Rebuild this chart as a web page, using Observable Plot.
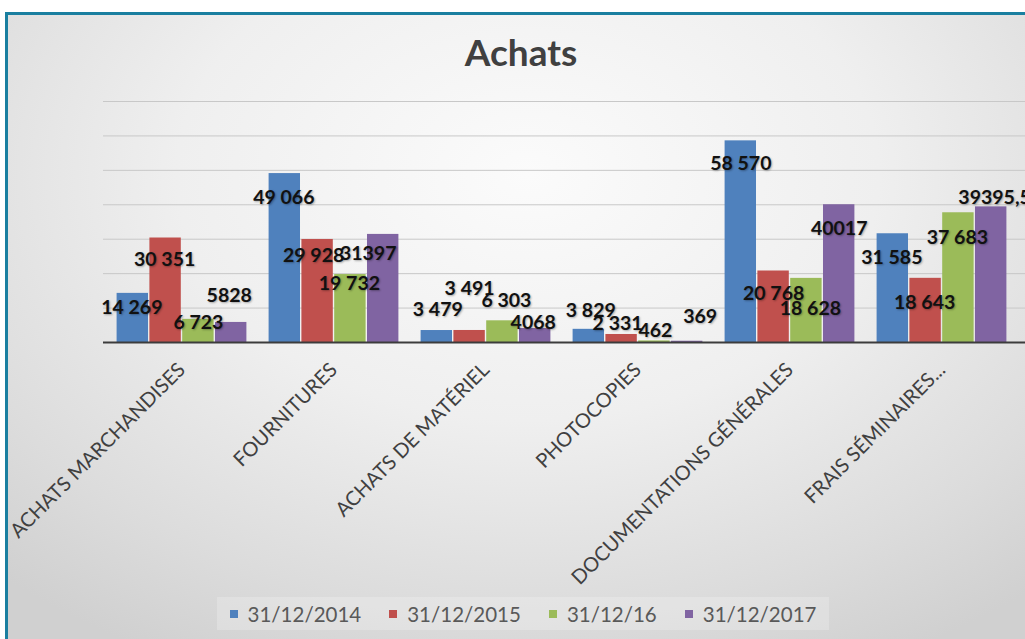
<!DOCTYPE html>
<html>
<head>
<meta charset="utf-8">
<script src="https://cdn.jsdelivr.net/npm/d3@7"></script>
<script src="https://cdn.jsdelivr.net/npm/@observablehq/plot@0.6"></script>
<style>
  html, body { margin: 0; padding: 0; background: #fff; width: 1025px; height: 639px; overflow: hidden; }
  #frame {
    position: absolute; left: 5px; top: 12px; width: 1040px; height: 640px;
    border-top: 3px solid #1a7fa0; border-left: 3px solid #1a7fa0;
    background: radial-gradient(ellipse 75% 85% at 50% 25%, #fbfbfb 0%, #efefef 45%, #dcdcdc 80%, #d0d0d0 100%);
  }
  #title {
    position: absolute; left: 521px; top: 33px; transform: translateX(-50%);
    font-family: Lato, sans-serif; font-weight: bold; font-size: 37px; line-height: 37px;
    color: #404040; white-space: nowrap;
  }
  #chart { position: absolute; left: 0; top: 80px; }
  #chart g.lbl text { text-shadow: 1px 1px 2px rgba(0,0,0,0.3); }
  #legend {
    position: absolute; left: 217px; top: 597px; width: 612px; height: 33px;
    display: flex; align-items: center; justify-content: center; gap: 28px;
    background: rgba(255,255,255,0.22);
    font-family: Lato, sans-serif; font-size: 20.5px; color: #595959;
  }
  #legend .item { display: flex; align-items: center; gap: 10px; }
  #legend .sw { width: 8px; height: 8px; display: inline-block; }
</style>
</head>
<body>
<div id="frame"></div>
<div id="title">Achats</div>
<div id="chart"></div>
<div id="legend"></div>
<script>
const categories = ["ACHATS MARCHANDISES", "FOURNITURES", "ACHATS DE MATÉRIEL", "PHOTOCOPIES", "DOCUMENTATIONS GÉNÉRALES", "FRAIS SÉMINAIRES..."];
const series = ["31/12/2014", "31/12/2015", "31/12/16", "31/12/2017"];
const values2014 = [14269, 49066, 3479, 3829, 58570, 31585];
const values2015 = [30351, 29928, 3491, 2331, 20768, 18643];
const values2016 = [6723, 19732, 6303, 462, 18628, 37683];
const values2017 = [5828, 31397, 4068, 369, 40017, 39395.55];
const labels2014 = ["14 269", "49 066", "3 479", "3 829", "58 570", "31 585"];
const labels2015 = ["30 351", "29 928", "3 491", "2 331", "20 768", "18 643"];
const labels2016 = ["6 723", "19 732", "6 303", "462", "18 628", "37 683"];
const labels2017 = ["5828", "31397", "4068", "369", "40017", "39395,55"];
const gridTicks = [10000, 20000, 30000, 40000, 50000, 60000, 70000];
const colors = ["#4f81bd", "#c0504d", "#9bbb59", "#8064a2"];

// Hand-placed data-label nudges (px, relative to bar top centre), as in the reference
const nudgeY = [
  [14, 24, -21, -19, 23, 24],
  [22, 16, -42, -11, 23, 24],
  [3, 9, -20, -10, 30, 25],
  [-27, 19, -6, -24, 24, -9]
];
const nudgeX = [
  [-1, -1, 1, 2, 0, -1],
  [-1, -4, 0, -4, 0, -1],
  [0, -1, 4, 1, 4, -1],
  [-2, -15, -2, 13, 0, 9]
];

const valuesBySeries = [values2014, values2015, values2016, values2017];
const labelsBySeries = [labels2014, labels2015, labels2016, labels2017];
const rows = [];
series.forEach((s, i) => categories.forEach((c, j) => rows.push({
  cat: c, series: s, si: i, ci: j, value: valuesBySeries[i][j], label: labelsBySeries[i][j]
})));

const xRange = [115, 1007.2];
const padInner = 0.138;
const band = d3.scaleBand(categories, xRange).paddingInner(padInner).paddingOuter(0);
const bw = band.bandwidth() / series.length;

const marks = [
  Plot.ruleY(gridTicks, {stroke: "#c8c8c8", strokeWidth: 1}),
  ...series.map((s, i) => Plot.barY(rows.filter(r => r.si === i), {
    x: "cat", y: "value", fill: colors[i],
    insetLeft: i * bw + 0.6, insetRight: (series.length - 1 - i) * bw + 0.6
  })),
  Plot.ruleY([0], {stroke: "#3c3c3c", strokeWidth: 2}),
  ...rows.map(r => Plot.text([r], {
    x: "cat", y: "value", text: "label",
    dx: (r.si + 0.5 - series.length / 2) * bw + nudgeX[r.si][r.ci],
    dy: nudgeY[r.si][r.ci],
    fontFamily: "Lato", fontWeight: "bold", fontSize: 19.5, fill: "#111", className: "lbl"
  })),
  Plot.axisX({tickRotate: -45, tickSize: 0, tickPadding: 24, dx: 0, fontSize: 20, fontFamily: "Lato", fill: "#404040"})
];

const chart = Plot.plot({
  width: 1025,
  height: 510,
  marginTop: 21,
  marginBottom: 248,
  marginLeft: 103,
  marginRight: 0,
  style: {background: "transparent", fontFamily: "Lato", color: "#404040", overflow: "visible"},
  x: {domain: categories, range: xRange, paddingInner: padInner, paddingOuter: 0, label: null},
  y: {domain: [0, 70000], axis: null},
  marks
});
document.getElementById("chart").appendChild(chart);

const legend = document.getElementById("legend");
series.forEach((s, i) => {
  const item = document.createElement("div");
  item.className = "item";
  const sw = document.createElement("span");
  sw.className = "sw";
  sw.style.background = colors[i];
  const t = document.createElement("span");
  t.textContent = s;
  item.appendChild(sw);
  item.appendChild(t);
  legend.appendChild(item);
});
</script>
</body>
</html>
